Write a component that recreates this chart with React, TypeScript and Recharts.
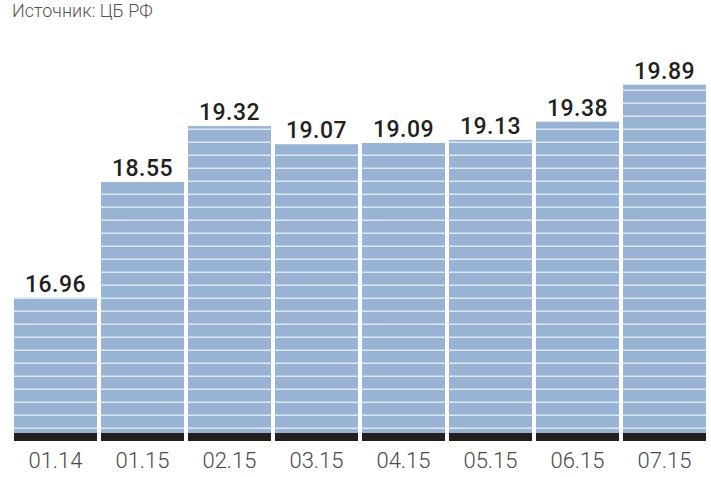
import React from "react";
import { BarChart, Bar, XAxis, YAxis, LabelList } from "recharts";

const categories = ["01.14", "01.15", "02.15", "03.15", "04.15", "05.15", "06.15", "07.15"];
const values = [16.96, 18.55, 19.32, 19.07, 19.09, 19.13, 19.38, 19.89];
const sourceText = "Источник: ЦБ РФ";

const data = categories.map((c, i) => ({ name: c, value: values[i] }));

const BAR_BLUE = "#98b3d3";
const STRIPE = "#dfe7f1";

const StripedBar = (props: any) => {
  const { x, y, width, height } = props;
  if (!width || !height) return null;
  return (
    <g>
      <rect x={x} y={y} width={width} height={height} fill="url(#stripes)" />
      <rect x={x} y={y + height - 7} width={width} height={8} fill="#231f20" />
    </g>
  );
};

export default function App() {
  return (
    <div style={{ position: "absolute", left: 0, top: 0, width: 711, height: 477, background: "#fff" }}>
      <div
        style={{
          position: "absolute",
          left: 12,
          top: 0,
          fontFamily: "Roboto",
          fontWeight: 300,
          fontSize: 18,
          lineHeight: "21px",
          color: "#555",
          zIndex: 2,
        }}
      >
        {sourceText}
      </div>
      <BarChart
        width={711}
        height={477}
        data={data}
        margin={{ top: 4, right: 3, bottom: 0, left: 12 }}
        barCategoryGap={2}
      >
        <defs>
          <pattern id="stripes" patternUnits="userSpaceOnUse" x={0} y={0} width={711} height={13}>
            <rect x={0} y={0} width={711} height={13} fill={BAR_BLUE} />
            <rect x={0} y={11.5} width={711} height={2} fill={STRIPE} />
          </pattern>
        </defs>
        <XAxis
          dataKey="name"
          axisLine={false}
          tickLine={false}
          tickSize={0}
          tickMargin={12}
          height={37}
          interval={0}
          tick={{ fontFamily: "Roboto", fontWeight: 300, fontSize: 22, fill: "#4a4a4a" }}
        />
        <YAxis hide domain={[15, 21]} />
        <Bar dataKey="value" shape={<StripedBar />} isAnimationActive={false}>
          <LabelList
            dataKey="value"
            position="top"
            offset={6}
            formatter={(v: any) => Number(v).toFixed(2)}
            style={{ fontFamily: "Roboto", fontWeight: 500, fontSize: 23, letterSpacing: 0.5, fill: "#231f20" }}
          />
        </Bar>
      </BarChart>
    </div>
  );
}
